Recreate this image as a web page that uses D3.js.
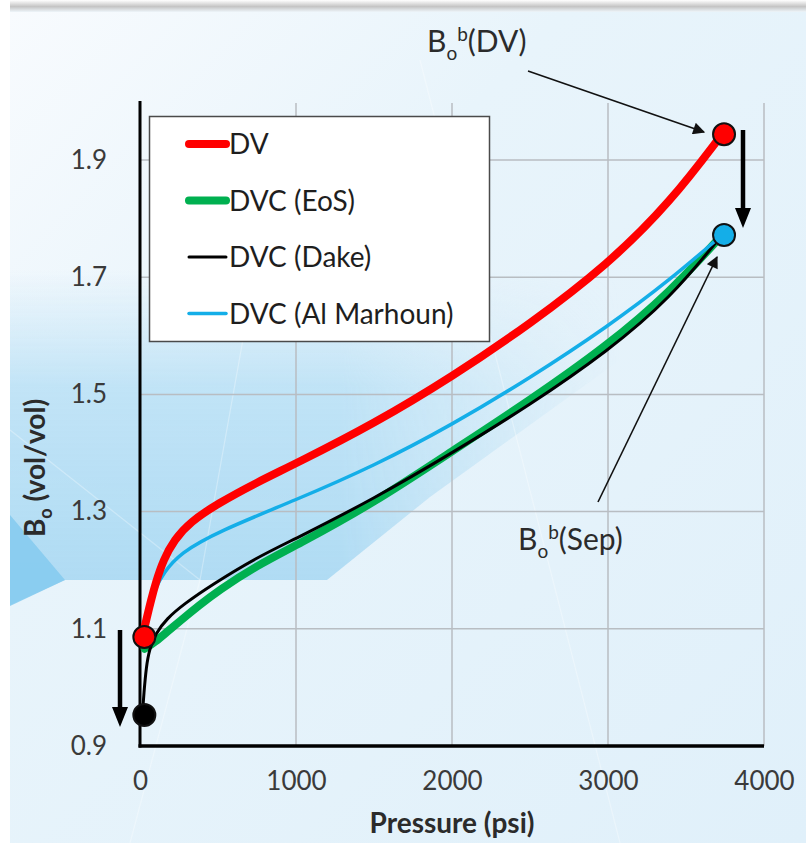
<!DOCTYPE html>
<html>
<head>
<meta charset="utf-8">
<script src="https://cdn.jsdelivr.net/npm/d3@7/dist/d3.min.js"></script>
<style>
  html, body { margin: 0; padding: 0; background: #ffffff; }
  svg { display: block; font-family: Lato, "Open Sans", sans-serif; }
</style>
</head>
<body>
<svg id="chart" width="806" height="843"></svg>
<script>
// Oil formation volume factor vs pressure
const xTicks = [0, 1000, 2000, 3000, 4000];
const yTicks = [0.9, 1.1, 1.3, 1.5, 1.7, 1.9];

const seriesNames = ["DV", "DVC (EoS)", "DVC (Dake)", "DVC (Al Marhoun)"];

// [pressure psi, Bo vol/vol]
const dvValues = [
  [15, 1.086], [40, 1.115], [70, 1.148], [100, 1.178], [150, 1.218], [220, 1.252],
  [320, 1.282], [500, 1.314], [750, 1.350], [1000, 1.382], [1500, 1.450],
  [2000, 1.530], [2500, 1.620], [3000, 1.722], [3400, 1.828], [3731, 1.944]
];
const eosValues = [
  [30, 1.066], [100, 1.078], [170, 1.094], [260, 1.114], [380, 1.140], [500, 1.165],
  [750, 1.208], [1000, 1.242], [1500, 1.315], [2000, 1.403], [2500, 1.490],
  [3000, 1.584], [3400, 1.675], [3731, 1.772]
];
const dakeValues = [
  [15, 0.953], [25, 0.990], [40, 1.035], [60, 1.065], [100, 1.092], [170, 1.117],
  [280, 1.142], [460, 1.175], [750, 1.222], [1000, 1.254], [1500, 1.322],
  [2000, 1.400], [2500, 1.482], [3000, 1.574], [3400, 1.664], [3731, 1.772]
];
const marhounValues = [
  [25, 1.095], [60, 1.140], [100, 1.170], [150, 1.195], [256, 1.229], [500, 1.266],
  [1000, 1.320], [1500, 1.378], [2000, 1.448], [2500, 1.528], [3000, 1.616],
  [3400, 1.696], [3731, 1.772]
];

// Highlighted points: Bo at bubble point (DV, separator) and at standard conditions
const bubbleDV = [3731, 1.944];
const bubbleSep = [3731, 1.772];
const stockDV = [15, 1.086];
const stockSep = [15, 0.953];

const svg = d3.select("#chart");
const W = 806, H = 843;

// ---------- background ----------
const defs = svg.append("defs");
const bg = defs.append("linearGradient").attr("id", "bgGrad")
  .attr("x1", "0").attr("y1", "0").attr("x2", "1").attr("y2", "1");
bg.append("stop").attr("offset", "0").attr("stop-color", "#f8fbfe");
bg.append("stop").attr("offset", "0.35").attr("stop-color", "#e8f4fb");
bg.append("stop").attr("offset", "1").attr("stop-color", "#e0f0fa");

const band = defs.append("linearGradient").attr("id", "bandGrad")
  .attr("x1", "0").attr("y1", "0").attr("x2", "0").attr("y2", "1");
band.append("stop").attr("offset", "0").attr("stop-color", "#c2e4f7").attr("stop-opacity", 0);
band.append("stop").attr("offset", "0.35").attr("stop-color", "#b9e0f5").attr("stop-opacity", 0.85);
band.append("stop").attr("offset", "1").attr("stop-color", "#addaf3").attr("stop-opacity", 1);

const bandFade = defs.append("linearGradient").attr("id", "bandFade")
  .attr("gradientUnits", "userSpaceOnUse")
  .attr("x1", 0).attr("y1", 0).attr("x2", 620).attr("y2", 0);
bandFade.append("stop").attr("offset", "0").attr("stop-color", "#fff").attr("stop-opacity", 1);
bandFade.append("stop").attr("offset", "0.55").attr("stop-color", "#fff").attr("stop-opacity", 1);
bandFade.append("stop").attr("offset", "1").attr("stop-color", "#fff").attr("stop-opacity", 0);
defs.append("mask").attr("id", "bandMask")
  .attr("maskUnits", "userSpaceOnUse").attr("x", 0).attr("y", 0).attr("width", W).attr("height", H)
  .append("rect").attr("x", 0).attr("y", 0).attr("width", W).attr("height", H)
  .attr("fill", "url(#bandFade)");

const topShade = defs.append("linearGradient").attr("id", "topShade")
  .attr("x1", "0").attr("y1", "0").attr("x2", "0").attr("y2", "1");
topShade.append("stop").attr("offset", "0").attr("stop-color", "#ffffff");
topShade.append("stop").attr("offset", "0.55").attr("stop-color", "#c4c4c4");
topShade.append("stop").attr("offset", "1").attr("stop-color", "#eef5fa");

svg.append("rect").attr("x", 0).attr("y", 0).attr("width", W).attr("height", H).attr("fill", "#ffffff");
svg.append("rect").attr("x", 10).attr("y", 8).attr("width", W - 10).attr("height", H - 8).attr("fill", "url(#bgGrad)");
svg.append("rect").attr("x", 10).attr("y", 0).attr("width", W - 10).attr("height", 12).attr("fill", "url(#topShade)");

svg.append("path")
  .attr("d", "M10,270 L620,270 L620,360 L430,497 L327,580 L65,580 L10,605 Z")
  .attr("fill", "url(#bandGrad)")
  .attr("mask", "url(#bandMask)");
svg.append("path")
  .attr("d", "M10,515 L65,580 L10,606 Z")
  .attr("fill", "#84caee").attr("opacity", 0.85);

// faint light rays
const rays = [[[200, 580], [130, 843]], [[200, 580], [10, 430]], [[200, 580], [250, 300]], [[420, 60], [620, 843]]];
svg.append("g").selectAll("line").data(rays).join("line")
  .attr("x1", d => d[0][0]).attr("y1", d => d[0][1])
  .attr("x2", d => d[1][0]).attr("y2", d => d[1][1])
  .attr("stroke", "#ffffff").attr("stroke-width", 1.2).attr("opacity", 0.3);

// ---------- scales ----------
const x = d3.scaleLinear().domain([0, 4000]).range([140, 764]);
const y = d3.scaleLinear().domain([0.9, 2.0]).range([746, 101.4]);

// ---------- grid ----------
const grid = svg.append("g");
grid.selectAll("line.v").data(xTicks.filter(d => d > 0)).join("line")
  .attr("x1", d => x(d)).attr("x2", d => x(d))
  .attr("y1", y(0.9)).attr("y2", 103)
  .attr("stroke", "#b8bdc2").attr("stroke-width", 1.5);
grid.selectAll("line.h").data(yTicks.filter(d => d > 0.9)).join("line")
  .attr("x1", x(0)).attr("x2", x(4000))
  .attr("y1", d => y(d)).attr("y2", d => y(d))
  .attr("stroke", "#b8bdc2").attr("stroke-width", 1.5);

// ---------- axes labels ----------
const xAxis = svg.append("g").attr("transform", `translate(0,${y(0.9)})`)
  .call(d3.axisBottom(x).tickValues(xTicks).tickSize(0).tickPadding(26).tickFormat(d3.format("d")));
const yAxis = svg.append("g").attr("transform", `translate(${x(0)},0)`)
  .call(d3.axisLeft(y).tickValues(yTicks).tickSize(0).tickPadding(33).tickFormat(d3.format(".1f")));
[xAxis, yAxis].forEach(a => {
  a.select(".domain").remove();
  a.selectAll("text").attr("font-family", "Lato, sans-serif").attr("font-size", 26).attr("fill", "#3a3a3a");
});

// axis lines
svg.append("line").attr("x1", x(0)).attr("x2", x(0)).attr("y1", 101).attr("y2", y(0.9) + 1.5)
  .attr("stroke", "#000").attr("stroke-width", 3);
svg.append("line").attr("x1", x(0) - 1.5).attr("x2", x(4000)).attr("y1", y(0.9)).attr("y2", y(0.9))
  .attr("stroke", "#000").attr("stroke-width", 3.5);

// axis titles
svg.append("text").attr("x", 452).attr("y", 833).attr("text-anchor", "middle")
  .attr("font-size", 28).attr("font-weight", "bold").attr("fill", "#2b2b2b")
  .text("Pressure (psi)");
const yt = svg.append("text").attr("transform", "translate(45,468) rotate(-90)")
  .attr("text-anchor", "middle").attr("font-size", 28).attr("font-weight", "bold").attr("fill", "#2b2b2b");
yt.append("tspan").text("B");
yt.append("tspan").attr("font-size", 18).attr("dy", 7).text("o");
yt.append("tspan").attr("dy", -7).text(" (vol/vol)");

// ---------- curves ----------
const line = d3.line().x(d => x(d[0])).y(d => y(d[1])).curve(d3.curveBasis);
const series = [
  { name: seriesNames[1], data: eosValues, color: "#00b050", width: 8 },
  { name: seriesNames[2], data: dakeValues, color: "#000000", width: 3 },
  { name: seriesNames[3], data: marhounValues, color: "#14aee8", width: 3.5 },
  { name: seriesNames[0], data: dvValues, color: "#ff0000", width: 8 }
];
svg.append("g").selectAll("path").data(series).join("path")
  .attr("d", d => line(d.data))
  .attr("fill", "none")
  .attr("stroke", d => d.color)
  .attr("stroke-width", d => d.width)
  .attr("stroke-linecap", "round");

// ---------- highlighted points ----------
const pts = [
  { p: stockSep, fill: "#000000", r: 11 },
  { p: stockDV, fill: "#ff0000", r: 11 },
  { p: bubbleDV, fill: "#ff0000", r: 11 },
  { p: bubbleSep, fill: "#14aee8", r: 11 }
];
svg.append("g").selectAll("circle").data(pts).join("circle")
  .attr("cx", d => x(d.p[0]) + 2).attr("cy", d => y(d.p[1]))
  .attr("r", d => d.r).attr("fill", d => d.fill)
  .attr("stroke", "#111").attr("stroke-width", 2);

// ---------- arrows ----------
defs.append("marker").attr("id", "thinHead").attr("viewBox", "0 0 10 10")
  .attr("refX", 9).attr("refY", 5).attr("markerWidth", 14).attr("markerHeight", 12)
  .attr("markerUnits", "userSpaceOnUse").attr("orient", "auto")
  .append("path").attr("d", "M0,0 L10,5 L0,10 Z").attr("fill", "#111");

function thinArrow(x1, y1, x2, y2) {
  svg.append("line").attr("x1", x1).attr("y1", y1).attr("x2", x2).attr("y2", y2)
    .attr("stroke", "#111").attr("stroke-width", 1.6).attr("marker-end", "url(#thinHead)");
}
thinArrow(528, 71, 704, 132);
thinArrow(598, 502, 717, 257);

function thickDown(xc, y1, y2) {
  svg.append("line").attr("x1", xc).attr("x2", xc).attr("y1", y1).attr("y2", y2 - 18)
    .attr("stroke", "#000").attr("stroke-width", 4.5);
  svg.append("path").attr("d", `M${xc - 8},${y2 - 20} L${xc + 8},${y2 - 20} L${xc},${y2} Z`).attr("fill", "#000");
}
thickDown(120, 630, 727);
thickDown(743, 130, 228);

// ---------- annotation labels ----------
function boLabel(xp, yp, suffix) {
  const t = svg.append("text").attr("x", xp).attr("y", yp).attr("font-size", 30).attr("fill", "#2b2b2b");
  t.append("tspan").text("B");
  t.append("tspan").attr("font-size", 19).attr("dy", 8).text("o");
  t.append("tspan").attr("font-size", 19).attr("dy", -19).text("b");
  t.append("tspan").attr("dy", 11).text(suffix);
}
boLabel(427, 52, "(DV)");
boLabel(518, 550, "(Sep)");

// ---------- legend ----------
const lg = svg.append("g");
lg.append("rect").attr("x", 149.5).attr("y", 116.5).attr("width", 340).attr("height", 225)
  .attr("fill", "#ffffff").attr("stroke", "#4a4a4a").attr("stroke-width", 1.5);
const legendItems = [
  { name: seriesNames[0], color: "#ff0000", width: 8 },
  { name: seriesNames[1], color: "#00b050", width: 8 },
  { name: seriesNames[2], color: "#000000", width: 3 },
  { name: seriesNames[3], color: "#14aee8", width: 3.5 }
];
const li = lg.selectAll("g.item").data(legendItems).join("g")
  .attr("transform", (d, i) => `translate(0,${144 + i * 56.5})`);
li.append("line").attr("x1", 189).attr("x2", 226).attr("y1", 0).attr("y2", 0)
  .attr("stroke", d => d.color).attr("stroke-width", d => d.width).attr("stroke-linecap", "round");
li.append("text").attr("x", 229).attr("y", 10).attr("font-size", 28).attr("fill", "#1e1e1e")
  .text(d => d.name);
</script>
</body>
</html>
